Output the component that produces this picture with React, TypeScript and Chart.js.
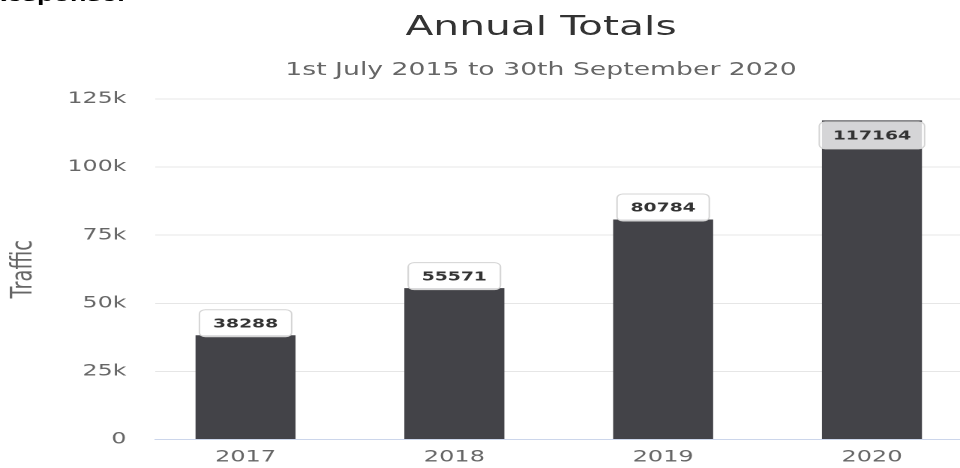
import React, { useEffect, useRef } from 'react';
import { Chart, registerables } from 'chart.js';

Chart.register(...registerables);

// ---- data ----
const categories = ['2017', '2018', '2019', '2020'];
const trafficTotals = [38288, 55571, 80784, 117164];
const yTickStep = 25000;
const yMax = 125000;
const titleText = 'Annual Totals';
const subtitleText = '1st July 2015 to 30th September 2020';
const yAxisTitle = 'Traffic';

// the reference is horizontally stretched; we draw at 640 wide and stretch to 960
const STRETCH = 1.5;
const W = 640;
const H = 468;

const barLabelPlugin = {
  id: 'barLabels',
  afterDatasetsDraw(chart: any) {
    const ctx = chart.ctx as CanvasRenderingContext2D;
    const meta = chart.getDatasetMeta(0);
    const area = chart.chartArea;
    ctx.save();
    ctx.font = 'bold 12.5px "DejaVu Sans"';
    meta.data.forEach((bar: any, i: number) => {
      const text = String(trafficTotals[i]);
      const tw = ctx.measureText(text).width;
      const w = tw + 18;
      const h = 27;
      const { x, y } = bar.getProps(['x', 'y'], true);
      let top = y + 1 - h;
      if (top < area.top) top = y + 1;
      const left = x - w / 2;
      ctx.beginPath();
      (ctx as any).roundRect(left, top + 0.5, w, h, 4);
      ctx.fillStyle = 'rgba(255,255,255,0.78)';
      ctx.fill();
      ctx.strokeStyle = '#d4d4d4';
      ctx.lineWidth = 1;
      ctx.stroke();
      ctx.fillStyle = '#333333';
      ctx.textAlign = 'center';
      ctx.textBaseline = 'middle';
      ctx.fillText(text, x, top + h / 2 + 1.5);
    });
    ctx.restore();
  },
};

export default function App() {
  const ref = useRef<HTMLCanvasElement>(null);

  useEffect(() => {
    if (!ref.current) return;
    const chart = new Chart(ref.current, {
      type: 'bar',
      data: {
        datasets: [
          {
            label: yAxisTitle,
            data: categories.map((_, i) => ({ x: i, y: trafficTotals[i] })),
            backgroundColor: '#434348',
            borderWidth: 0,
            categoryPercentage: 0.5,
            barPercentage: 0.958,
          },
        ],
      },
      options: {
        responsive: false,
        animation: false,
        devicePixelRatio: 2,
        layout: { padding: { top: 99, left: 0, right: 0, bottom: 0 } },
        plugins: {
          legend: { display: false },
          tooltip: { enabled: false },
          title: { display: false },
        },
        scales: {
          x: {
            type: 'linear',
            min: -0.4338,
            max: 3.4217,
            offset: false,
            grid: { display: false, drawTicks: false, offset: false },
            border: { display: true, color: '#ccd6eb', width: 1 },
            ticks: {
              stepSize: 1,
              includeBounds: false,
              autoSkip: false,
              maxRotation: 0,
              padding: 8,
              color: '#666666',
              font: { family: 'DejaVu Sans', size: 16, lineHeight: 1.2 },
              callback: (v: any) =>
                Number.isInteger(v) && categories[v] !== undefined ? categories[v] : '',
            },
            afterFit: (s: any) => {
              s.height = 27;
            },
          },
          y: {
            min: 0,
            max: yMax,
            grid: { color: '#e6e6e6', drawTicks: false, lineWidth: 1 },
            border: { display: false },
            ticks: {
              stepSize: yTickStep,
              padding: 19,
              color: '#666666',
              font: { family: 'DejaVu Sans', size: 15.8 },
              callback: (v: any) => (v === 0 ? '0' : `${v / 1000}k`),
            },
            title: {
              display: true,
              text: yAxisTitle,
              color: '#666666',
              font: { family: 'DejaVu Sans', size: 19.5, lineHeight: 1.2 },
              padding: { top: 4, bottom: 0 },
            },
            afterFit: (s: any) => {
              s.width = 103.3;
            },
          },
        },
      },
      plugins: [barLabelPlugin],
    } as any);
    return () => chart.destroy();
  }, []);

  return (
    <div
      style={{
        position: 'absolute',
        left: 0,
        top: 0,
        width: W,
        height: H,
        transform: `scaleX(${STRETCH})`,
        transformOrigin: '0 0',
      }}
    >
      <div
        style={{
          position: 'absolute',
          left: -8.3,
          top: -14,
          fontFamily: '"Liberation Sans", Arial, sans-serif',
          fontWeight: 'bold',
          fontSize: 18,
          lineHeight: '18px',
          color: '#000',
          whiteSpace: 'nowrap',
        }}
      >
        Response:
      </div>
      <div
        style={{
          position: 'absolute',
          left: 60.7,
          width: 600,
          top: 12.2,
          textAlign: 'center',
          fontFamily: '"DejaVu Sans", sans-serif',
          fontSize: 27.2,
          lineHeight: '27.2px',
          color: '#333333',
          whiteSpace: 'nowrap',
        }}
      >
        {titleText}
      </div>
      <div
        style={{
          position: 'absolute',
          left: 60.7,
          width: 600,
          top: 60,
          textAlign: 'center',
          fontFamily: '"DejaVu Sans", sans-serif',
          fontSize: 17.8,
          lineHeight: '17.8px',
          color: '#666666',
          whiteSpace: 'nowrap',
        }}
      >
        {subtitleText}
      </div>
      <canvas
        ref={ref}
        width={W}
        height={H}
        style={{ position: 'absolute', left: 0, top: 0, width: W, height: H }}
      />
    </div>
  );
}
